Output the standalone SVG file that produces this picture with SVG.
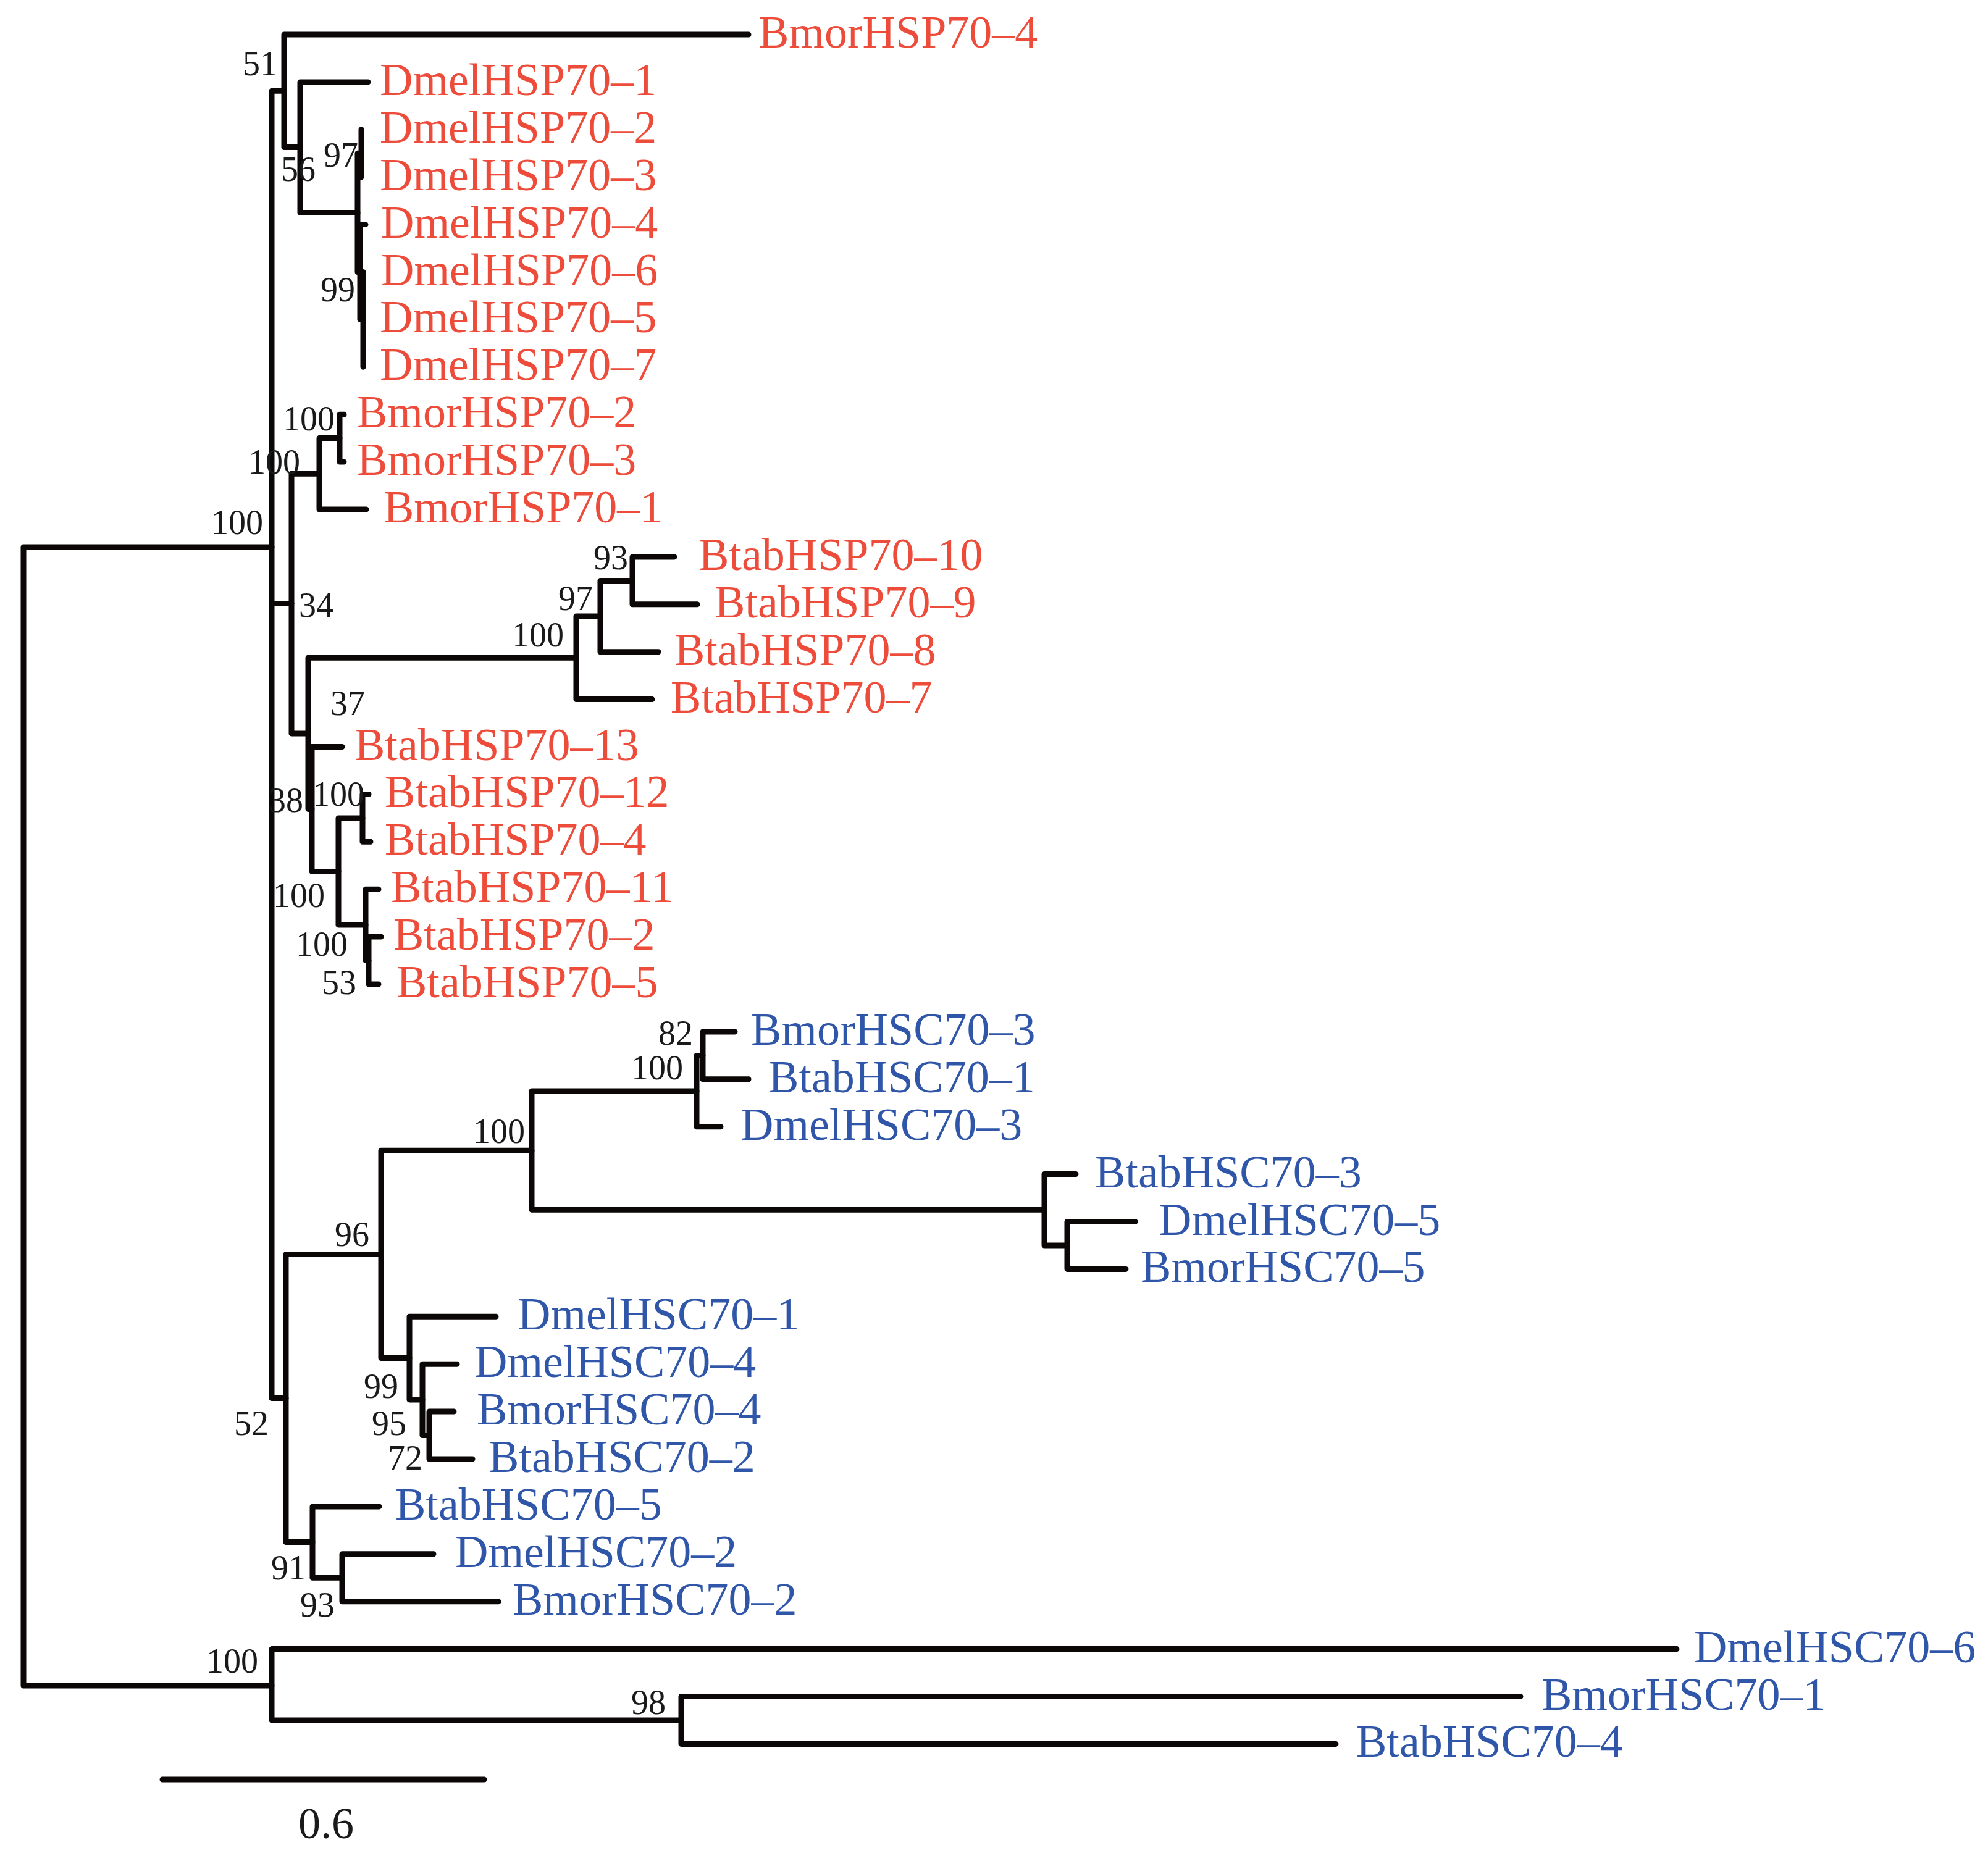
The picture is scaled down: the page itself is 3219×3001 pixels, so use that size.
<svg xmlns="http://www.w3.org/2000/svg" width="3219" height="3001" viewBox="0 0 3219 3001">
<style>
.e{fill:none;stroke:#0b0706;stroke-width:9;stroke-linecap:round;stroke-linejoin:round}
.r{font-family:"Liberation Serif","Times New Roman",serif;font-size:74px;fill:#ED4C3B}
.b{font-family:"Liberation Serif","Times New Roman",serif;font-size:74px;fill:#2F56A8}
.s{font-family:"Liberation Serif","Times New Roman",serif;font-size:56px;fill:#1a1a1a;text-anchor:end}
.sc{font-family:"Liberation Serif","Times New Roman",serif;font-size:72px;fill:#1a1a1a;text-anchor:middle}
</style>
<rect width="3219" height="3001" fill="#ffffff"/>
<g id="connectors">
<path class="e" d="M440 886 H38 V2730 H440"/>
<path class="e" d="M460 147.3 H440 V2264.5 H463 M440 977.6 H472"/>
<path class="e" d="M1212 56 H460 V238.6 H486"/>
<path class="e" d="M596 132.9 H486 V344.4 H579"/>
<path class="e" d="M585 248.3 H579 V440.5 H583"/>
<path class="e" d="M585 209.8 V286.7"/>
<path class="e" d="M592 363.6 H583 V517.4 H588"/>
<path class="e" d="M588 440.5 V594.3"/>
<path class="e" d="M517 767.3 H472 V1187.9 H499"/>
<path class="e" d="M550 709.6 H517 V825 H593"/>
<path class="e" d="M557 671.2 H550 V748.1 H557"/>
<path class="e" d="M933 1065.3 H499 V1310.4 H505"/>
<path class="e" d="M972 998 H933 V1132.6 H1056"/>
<path class="e" d="M1024 940.4 H972 V1055.7 H1066"/>
<path class="e" d="M1092 901.9 H1024 V978.8 H1129"/>
<path class="e" d="M554 1209.5 H505 V1411.4 H548"/>
<path class="e" d="M587 1324.9 H548 V1497.9 H592"/>
<path class="e" d="M597 1286.4 H587 V1363.3 H600"/>
<path class="e" d="M613 1440.2 H592 V1555.6 H597"/>
<path class="e" d="M617 1517.1 H597 V1594 H613"/>
<path class="e" d="M617 2031.4 H463 V2497.6 H506"/>
<path class="e" d="M861 1863.2 H617 V2199.6 H663"/>
<path class="e" d="M1128 1767 H861 V1959.3 H1691"/>
<path class="e" d="M1138 1709.4 H1128 V1824.7 H1167"/>
<path class="e" d="M1190 1670.9 H1138 V1747.8 H1212"/>
<path class="e" d="M1742 1901.6 H1691 V2017 H1728"/>
<path class="e" d="M1838 1978.5 H1728 V2055.4 H1823"/>
<path class="e" d="M803 2132.3 H663 V2266.9 H684"/>
<path class="e" d="M740 2209.2 H684 V2324.6 H695"/>
<path class="e" d="M735 2286.1 H695 V2363 H765"/>
<path class="e" d="M614 2439.9 H506 V2555.3 H554"/>
<path class="e" d="M702 2516.8 H554 V2593.7 H807"/>
<path class="e" d="M2715 2670.6 H440 V2786 H1103"/>
<path class="e" d="M2462 2747.5 H1103 V2824.4 H2163"/>
</g>
<g id="leaves">
<g id="BmorHSP70-4"><text class="r" x="1228" y="77">BmorHSP70–4</text></g>
<g id="DmelHSP70-1"><text class="r" x="615" y="154">DmelHSP70–1</text></g>
<g id="DmelHSP70-2"><text class="r" x="615" y="231">DmelHSP70–2</text></g>
<g id="DmelHSP70-3"><text class="r" x="615" y="308">DmelHSP70–3</text></g>
<g id="DmelHSP70-4"><text class="r" x="617" y="385">DmelHSP70–4</text></g>
<g id="DmelHSP70-6"><text class="r" x="617" y="462">DmelHSP70–6</text></g>
<g id="DmelHSP70-5"><text class="r" x="615" y="538">DmelHSP70–5</text></g>
<g id="DmelHSP70-7"><text class="r" x="615" y="615">DmelHSP70–7</text></g>
<g id="BmorHSP70-2"><text class="r" x="578" y="692">BmorHSP70–2</text></g>
<g id="BmorHSP70-3"><text class="r" x="578" y="769">BmorHSP70–3</text></g>
<g id="BmorHSP70-1"><text class="r" x="621" y="846">BmorHSP70–1</text></g>
<g id="BtabHSP70-10"><text class="r" x="1131" y="923">BtabHSP70–10</text></g>
<g id="BtabHSP70-9"><text class="r" x="1157" y="1000">BtabHSP70–9</text></g>
<g id="BtabHSP70-8"><text class="r" x="1092" y="1077">BtabHSP70–8</text></g>
<g id="BtabHSP70-7"><text class="r" x="1086" y="1154">BtabHSP70–7</text></g>
<g id="BtabHSP70-13"><text class="r" x="574" y="1231">BtabHSP70–13</text></g>
<g id="BtabHSP70-12"><text class="r" x="623" y="1307">BtabHSP70–12</text></g>
<g id="BtabHSP70-4"><text class="r" x="623" y="1384">BtabHSP70–4</text></g>
<g id="BtabHSP70-11"><text class="r" x="633" y="1461">BtabHSP70–11</text></g>
<g id="BtabHSP70-2"><text class="r" x="637" y="1538">BtabHSP70–2</text></g>
<g id="BtabHSP70-5"><text class="r" x="642" y="1615">BtabHSP70–5</text></g>
<g id="BmorHSC70-3"><text class="b" x="1216" y="1692">BmorHSC70–3</text></g>
<g id="BtabHSC70-1"><text class="b" x="1244" y="1769">BtabHSC70–1</text></g>
<g id="DmelHSC70-3"><text class="b" x="1199" y="1846">DmelHSC70–3</text></g>
<g id="BtabHSC70-3"><text class="b" x="1773" y="1923">BtabHSC70–3</text></g>
<g id="DmelHSC70-5"><text class="b" x="1876" y="2000">DmelHSC70–5</text></g>
<g id="BmorHSC70-5"><text class="b" x="1847" y="2076">BmorHSC70–5</text></g>
<g id="DmelHSC70-1"><text class="b" x="838" y="2153">DmelHSC70–1</text></g>
<g id="DmelHSC70-4"><text class="b" x="768" y="2230">DmelHSC70–4</text></g>
<g id="BmorHSC70-4"><text class="b" x="772" y="2307">BmorHSC70–4</text></g>
<g id="BtabHSC70-2"><text class="b" x="791" y="2384">BtabHSC70–2</text></g>
<g id="BtabHSC70-5"><text class="b" x="640" y="2461">BtabHSC70–5</text></g>
<g id="DmelHSC70-2"><text class="b" x="737" y="2538">DmelHSC70–2</text></g>
<g id="BmorHSC70-2"><text class="b" x="830" y="2615">BmorHSC70–2</text></g>
<g id="DmelHSC70-6"><text class="b" x="2743" y="2692">DmelHSC70–6</text></g>
<g id="BmorHSC70-1"><text class="b" x="2496" y="2769">BmorHSC70–1</text></g>
<g id="BtabHSC70-4"><text class="b" x="2196" y="2845">BtabHSC70–4</text></g>
</g>
<g id="support">
<g id="n51"><text class="s" x="449" y="122">51</text></g>
<g id="n56"><text class="s" x="511" y="293">56</text></g>
<g id="n97a"><text class="s" x="580" y="270">97</text></g>
<g id="n99a"><text class="s" x="575" y="488">99</text></g>
<g id="n100r"><text class="s" x="542" y="697">100</text></g>
<g id="n100q"><text class="s" x="486" y="767">100</text></g>
<g id="n100a"><text class="s" x="426" y="865">100</text></g>
<g id="n34"><text class="s" x="540" y="999">34</text></g>
<g id="n93a"><text class="s" x="1017" y="922">93</text></g>
<g id="n97b"><text class="s" x="960" y="988">97</text></g>
<g id="n100u"><text class="s" x="913" y="1047">100</text></g>
<g id="n37"><text class="s" x="591" y="1158">37</text></g>
<g id="n38"><text class="s" x="491" y="1315">38</text></g>
<g id="n100y"><text class="s" x="590" y="1305">100</text></g>
<g id="n100x"><text class="s" x="526" y="1469">100</text></g>
<g id="n100z"><text class="s" x="563" y="1548">100</text></g>
<g id="n53"><text class="s" x="577" y="1610">53</text></g>
<g id="n82"><text class="s" x="1122" y="1692">82</text></g>
<g id="n100c"><text class="s" x="1106" y="1748">100</text></g>
<g id="n100big"><text class="s" x="850" y="1851">100</text></g>
<g id="n96"><text class="s" x="598" y="2018">96</text></g>
<g id="n99b"><text class="s" x="645" y="2264">99</text></g>
<g id="n95"><text class="s" x="658" y="2324">95</text></g>
<g id="n72"><text class="s" x="684" y="2380">72</text></g>
<g id="n52"><text class="s" x="435" y="2324">52</text></g>
<g id="n91"><text class="s" x="495" y="2558">91</text></g>
<g id="n93b"><text class="s" x="542" y="2618">93</text></g>
<g id="n100b"><text class="s" x="418" y="2709">100</text></g>
<g id="n98"><text class="s" x="1078" y="2776">98</text></g>
</g>
<g id="scalebar">
<path class="e" d="M263 2882 H784"/>
<text class="sc" x="528" y="2977">0.6</text>
</g>
</svg>
